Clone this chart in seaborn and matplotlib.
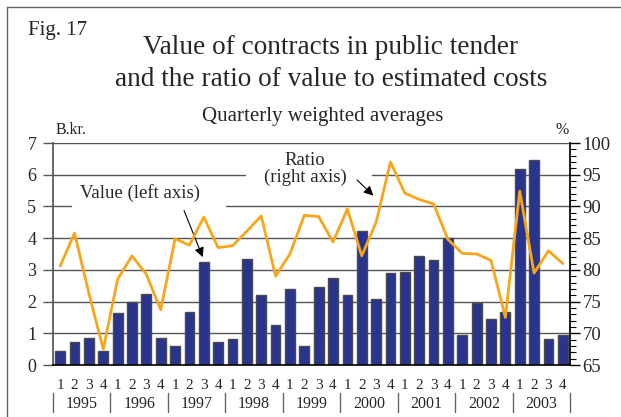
import numpy as np
import pandas as pd
import matplotlib.pyplot as plt
import seaborn as sns
from matplotlib.lines import Line2D

# quarterly data 1995-2003
years = ['1995', '1996', '1997', '1998', '1999', '2000', '2001', '2002', '2003']
quarters = ['1', '2', '3', '4']
value_bkr = [0.44, 0.74, 0.86, 0.43,
             1.64, 1.98, 2.25, 0.86,
             0.60, 1.67, 3.25, 0.72,
             0.83, 3.33, 2.20, 1.27,
             2.40, 0.61, 2.47, 2.73,
             2.22, 4.21, 2.09, 2.89,
             2.93, 3.44, 3.31, 4.00,
             0.96, 1.94, 1.45, 1.68,
             6.19, 6.47, 0.81, 0.96]
ratio_pct = [80.6, 85.8, 76.3, 67.5,
             78.5, 82.2, 79.3, 73.7,
             84.9, 83.9, 88.3, 83.5,
             83.8, 86.1, 88.5, 79.0,
             82.5, 88.6, 88.4, 84.4,
             89.6, 82.2, 87.5, 97.0,
             92.1, 91.1, 90.4, 84.8,
             82.6, 82.5, 81.5, 72.5,
             92.4, 79.5, 83.0, 81.0]

pos = np.arange(len(value_bkr))
df = pd.DataFrame({'pos': pos, 'value': value_bkr, 'ratio': ratio_pct})

sns.set_theme(style='white')
plt.rcParams['font.family'] = ['Liberation Serif', 'DejaVu Serif']

W, H = 621, 417
fig = plt.figure(figsize=(W / 100, H / 100), dpi=100)
ax = fig.add_axes([53 / W, 1 - 365 / H, (570 - 53) / W, 222 / H])

gridc = '#555555'
bar_blue = '#29348F'
orange = '#F9A51A'

# horizontal grid, broken where the labels sit
for lev in range(1, 8):
    if lev == 5:
        ax.axhline(lev, 0, (71 - 53) / 517, color=gridc, lw=1, zorder=0.5)
        ax.axhline(lev, (226 - 53) / 517, 1, color=gridc, lw=1, zorder=0.5)
    elif lev == 6:
        ax.axhline(lev, 0, (245 - 53) / 517, color=gridc, lw=1, zorder=0.5)
        ax.axhline(lev, (372 - 53) / 517, 1, color=gridc, lw=1, zorder=0.5)
    else:
        ax.axhline(lev, color=gridc, lw=1, zorder=0.5)

sns.barplot(data=df, x='pos', y='value', ax=ax, color=bar_blue, saturation=1,
            width=0.68, edgecolor='#4a4a4a', linewidth=1, zorder=2)
ax.set_xlim(-0.5, len(pos) - 0.5)
ax.set_ylim(0, 7)
ax.set_yticks(range(0, 8))
ax.set_xticks(pos)
ax.set_xticklabels(quarters * len(years))
ax.set_xlabel('')
ax.set_ylabel('')
ax.tick_params(axis='x', length=0, pad=10, labelsize=11)
ax.tick_params(axis='y', left=True, length=7, width=1, color=gridc, pad=5, labelsize=13)
for s in ['top', 'right']:
    ax.spines[s].set_visible(False)
ax.spines['left'].set_color(gridc)
ax.spines['bottom'].set_color('black')
ax.spines['bottom'].set_linewidth(1.2)

# ratio on right axis
ax2 = ax.twinx()
sns.lineplot(data=df, x='pos', y='ratio', ax=ax2, color=orange, linewidth=2)
ax2.set_ylim(65, 100)
ax2.set_yticks(range(65, 101, 5))
ax2.set_yticks(range(65, 101), minor=True)
ax2.set_ylabel('')
ax2.set_xlabel('')
ax2.tick_params(axis='y', which='major', right=True, length=7, width=1, color='black', pad=2, labelsize=13.5)
ax2.tick_params(axis='y', which='minor', right=True, length=4, width=0.8, color='black')
for s in ['top', 'left', 'bottom']:
    ax2.spines[s].set_visible(False)
ax2.spines['right'].set_color('black')
ax2.grid(False)

# year labels and separators
for i, y in enumerate(years):
    ax.text(4 * i + 1.5, -0.176, y, transform=ax.get_xaxis_transform(),
            ha='center', va='center', fontsize=11.5)
for i in range(len(years) + 1):
    ax.add_line(Line2D([4 * i - 0.5, 4 * i - 0.5], [-0.127, -0.212], color='#666666', lw=1,
                       transform=ax.get_xaxis_transform(), clip_on=False))

# annotations
ax2.text(140 / W, 1 - 193 / H, 'Value (left axis)', transform=fig.transFigure,
         ha='center', va='center', fontsize=13.5)
ax2.text(305 / W, 1 - 169 / H, 'Ratio\n(right axis)', transform=fig.transFigure,
         ha='center', va='center', fontsize=13.5, linespacing=1.05)
ax.annotate('', xy=(10, 3.32), xycoords='data', xytext=(183 / W, 1 - 208 / H),
            textcoords='figure fraction',
            arrowprops=dict(arrowstyle='-|>', color='black', lw=0.8, mutation_scale=14))
ax2.annotate('', xy=(21.95, 91.4), xycoords='data', xytext=(355 / W, 1 - 178 / H),
             textcoords='figure fraction',
             arrowprops=dict(arrowstyle='-|>', color='black', lw=0.8, mutation_scale=14))

# titles
fig.text(28 / W, 1 - 30 / H, 'Fig. 17', ha='left', va='center', fontsize=15)
fig.text(331 / W, 1 - 47 / H, 'Value of contracts in public tender', ha='center', va='center', fontsize=19.6)
fig.text(331 / W, 1 - 80 / H, 'and the ratio of value to estimated costs', ha='center', va='center', fontsize=19.6)
fig.text(323 / W, 1 - 116 / H, 'Quarterly weighted averages', ha='center', va='center', fontsize=15)
fig.text(71 / W, 1 - 130 / H, 'B.kr.', ha='center', va='center', fontsize=11.5)
fig.text(562 / W, 1 - 130 / H, '%', ha='center', va='center', fontsize=11.5)

# frame lines at left and top
fig.add_artist(Line2D([7 / W, 7 / W], [0, 1 - 7 / H], color='#666666', lw=1, transform=fig.transFigure))
fig.add_artist(Line2D([7 / W, 1], [1 - 7 / H, 1 - 7 / H], color='#666666', lw=1, transform=fig.transFigure))

fig.savefig('out.png', dpi=100)
